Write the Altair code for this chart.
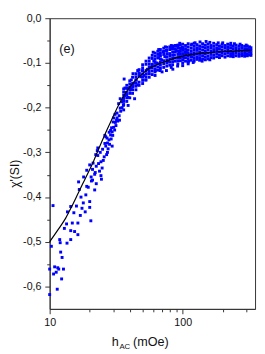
import altair as alt
import pandas as pd

FONT = "Liberation Sans"

# fitted curve (black line)
fit_h = [10, 11.5, 13.2, 14.6, 16.1, 17.6, 19.3, 21.5, 24, 27.2, 30, 32.5, 35, 38, 42,
         46, 50, 57, 65, 74, 84, 96, 110, 130, 155, 185, 220, 260, 300, 325]
fit_chi = [-0.500, -0.474, -0.447, -0.422, -0.396, -0.372, -0.348, -0.318, -0.284, -0.247,
           -0.220, -0.198, -0.180, -0.163, -0.146, -0.134, -0.124, -0.111, -0.103, -0.097,
           -0.091, -0.086, -0.082, -0.079, -0.077, -0.075, -0.074, -0.073, -0.072, -0.072]

# sparse low-field points
low_h = [16.5, 19.0, 20.6, 21.0, 22.4, 19.5, 16.7, 21.8, 18.7, 17.2, 10.6, 20.0, 17.9, 15.9,
         14.4, 20.0, 17.5, 13.6, 15.2, 18.5, 17.0, 13.4, 14.8, 16.3, 20.4, 12.9, 14.4, 15.4,
         16.3, 14.4, 11.9, 12.0, 13.5, 10.3, 12.1, 12.4, 10.0, 10.9, 11.5, 11.7, 12.7, 10.7,
         11.2, 12.3, 11.4, 10.0]
low_chi = [-0.366, -0.376, -0.364, -0.362, -0.370, -0.378, -0.383, -0.384, -0.395, -0.400,
           -0.419, -0.410, -0.413, -0.420, -0.421, -0.423, -0.425, -0.433, -0.435, -0.433,
           -0.441, -0.460, -0.458, -0.458, -0.453, -0.470, -0.475, -0.477, -0.484, -0.495,
           -0.495, -0.502, -0.503, -0.510, -0.523, -0.535, -0.561, -0.556, -0.558, -0.561,
           -0.561, -0.572, -0.568, -0.583, -0.606, -0.618]

# points along the steep part
mid_h = [20.0, 21.2, 23.0, 22.4, 24.3, 23.7, 25.7, 25.0, 26.4, 27.2, 27.9, 26.4, 28.7, 29.5,
         30.3, 28.7, 31.2, 30.3, 32.1, 32.1, 33.9, 33.0, 34.8, 35.8, 33.9, 27.2, 29.5, 21.8,
         24.3, 19.0, 18.0, 22.8, 26.0, 31.0, 22.0, 23.3, 24.8, 25.3, 26.8, 27.5, 28.2, 29.0,
         29.8, 30.8, 31.5, 32.5, 33.3, 34.2, 35.0, 36.0, 26.0, 27.0, 28.0, 29.2, 30.0, 31.8,
         33.5, 24.0, 23.0, 22.2, 21.0, 20.5, 24.5, 36.3]
mid_chi = [-0.328, -0.324, -0.307, -0.331, -0.321, -0.342, -0.310, -0.293, -0.286, -0.279,
           -0.272, -0.265, -0.261, -0.254, -0.244, -0.251, -0.233, -0.223, -0.223, -0.212,
           -0.201, -0.191, -0.187, -0.195, -0.180, -0.300, -0.286, -0.349, -0.352, -0.340,
           -0.355, -0.296, -0.262, -0.215, -0.345, -0.325, -0.335, -0.318, -0.305, -0.292,
           -0.282, -0.270, -0.262, -0.250, -0.240, -0.230, -0.218, -0.208, -0.200, -0.205,
           -0.280, -0.268, -0.255, -0.245, -0.232, -0.228, -0.228, -0.300, -0.290, -0.305,
           -0.338, -0.355, -0.360, -0.136]

# scattered points around the knee
knee_h = [35.8, 36.8, 37.8, 38.9, 41.1, 42.3, 43.5, 40.0, 44.7, 45.9, 48.5, 47.2, 49.9, 51.2,
          54.2, 55.7, 57.3, 52.7, 58.9, 60.6, 62.3, 64.0, 65.8, 67.6, 69.5, 71.5, 73.4, 75.5,
          77.6, 79.8, 82.0, 84.3, 86.7, 89.1, 91.6, 94.2, 96.8, 99.5, 102, 105, 108, 111, 114,
          117, 42.3, 45.9, 41.1, 36.8, 38.9, 43.5, 91.6, 82.0, 75.5, 67.6, 84.3]
knee_chi = [-0.184, -0.173, -0.166, -0.177, -0.159, -0.152, -0.145, -0.156, -0.138, -0.149,
            -0.131, -0.124, -0.117, -0.128, -0.114, -0.124, -0.110, -0.138, -0.103, -0.096,
            -0.117, -0.100, -0.089, -0.082, -0.093, -0.075, -0.086, -0.072, -0.096, -0.079,
            -0.068, -0.065, -0.082, -0.072, -0.061, -0.075, -0.068, -0.065, -0.089, -0.075,
            -0.072, -0.096, -0.082, -0.086, -0.124, -0.117, -0.138, -0.156, -0.195, -0.180,
            -0.107, -0.110, -0.117, -0.117, -0.114]

# ragged edges of the saturated band
edge_h = [82, 89, 117, 124, 135, 160, 200, 245, 270, 300, 74, 66, 60, 95, 150, 185, 230,
          100, 110, 120, 140, 160, 62, 70]
edge_chi = [-0.061, -0.061, -0.058, -0.055, -0.053, -0.054, -0.055, -0.057, -0.058, -0.060,
            -0.064, -0.070, -0.076, -0.056, -0.052, -0.055, -0.056, -0.106, -0.102, -0.099,
            -0.096, -0.093, -0.128, -0.120]

# dense columns of measurements (field value -> chi' readings)
dense_cols = {
    36: [-0.158, -0.165, -0.172, -0.179, -0.186, -0.193],
    38: [-0.150, -0.157, -0.171, -0.178, -0.186],
    40: [-0.140, -0.147, -0.154, -0.161, -0.168, -0.178],
    42: [-0.132, -0.146, -0.153, -0.160, -0.168],
    44.5: [-0.124, -0.131, -0.138, -0.145, -0.152, -0.160],
    47: [-0.115, -0.122, -0.129, -0.143, -0.150],
    50: [-0.104, -0.111, -0.118, -0.125, -0.132, -0.139, -0.146],
    53: [-0.096, -0.103, -0.117, -0.124, -0.131, -0.138],
    56: [-0.089, -0.096, -0.103, -0.110, -0.117, -0.124, -0.132],
    59: [-0.083, -0.090, -0.104, -0.111, -0.118, -0.126],
    62: [-0.078, -0.085, -0.092, -0.099, -0.106, -0.113, -0.120],
    65: [-0.074, -0.081, -0.088, -0.102, -0.109, -0.116],
    68: [-0.070, -0.077, -0.084, -0.091, -0.098, -0.105, -0.112],
    72: [-0.067, -0.074, -0.081, -0.095, -0.102, -0.110],
    76: [-0.065, -0.072, -0.079, -0.086, -0.093, -0.100, -0.107],
    80: [-0.064, -0.070, -0.084, -0.091, -0.098, -0.105],
    84: [-0.062, -0.069, -0.076, -0.083, -0.090, -0.097, -0.104],
    88: [-0.061, -0.068, -0.075, -0.089, -0.096],
    92: [-0.060, -0.067, -0.074, -0.081, -0.088, -0.095, -0.102],
    96: [-0.060, -0.067, -0.074, -0.081, -0.088, -0.095],
    100: [-0.058, -0.066, -0.072, -0.079, -0.086, -0.093, -0.100],
    105: [-0.061, -0.068, -0.075, -0.081, -0.088, -0.096],
    110: [-0.057, -0.064, -0.071, -0.078, -0.085, -0.091, -0.098],
    116: [-0.060, -0.067, -0.074, -0.080, -0.087, -0.094],
    122: [-0.056, -0.063, -0.070, -0.077, -0.083, -0.090, -0.096],
    128: [-0.059, -0.066, -0.072, -0.079, -0.086, -0.092],
    134: [-0.062, -0.068, -0.075, -0.081, -0.088, -0.094],
    141: [-0.057, -0.064, -0.071, -0.078, -0.084, -0.091],
    148: [-0.060, -0.066, -0.073, -0.080, -0.087, -0.093],
    155: [-0.058, -0.065, -0.071, -0.078, -0.085, -0.091],
    163: [-0.061, -0.067, -0.074, -0.081, -0.088],
    171: [-0.056, -0.063, -0.070, -0.076, -0.083, -0.089],
    180: [-0.059, -0.066, -0.072, -0.079, -0.086],
    189: [-0.062, -0.068, -0.075, -0.082, -0.088],
    198: [-0.058, -0.064, -0.071, -0.078, -0.084],
    208: [-0.061, -0.067, -0.074, -0.080, -0.087],
    218: [-0.058, -0.064, -0.070, -0.077, -0.084],
    229: [-0.060, -0.066, -0.073, -0.079, -0.085],
    240: [-0.062, -0.068, -0.075, -0.081, -0.086],
    252: [-0.060, -0.066, -0.072, -0.078, -0.084],
    265: [-0.062, -0.068, -0.074, -0.080, -0.085],
    278: [-0.061, -0.067, -0.073, -0.079, -0.084],
    292: [-0.063, -0.069, -0.075, -0.081, -0.085],
    306: [-0.062, -0.068, -0.074, -0.080, -0.084],
    318: [-0.064, -0.070, -0.076, -0.082],
    326: [-0.066, -0.072, -0.078, -0.083],
}

y_major = [-0.6, -0.5, -0.4, -0.3, -0.2, -0.1, 0.0]
y_minor = [-0.55, -0.45, -0.35, -0.25, -0.15, -0.05]
x_major = [10, 100]
x_minor = [20, 30, 40, 50, 60, 70, 80, 90, 200, 300]

# ---- build tables ----
hs, cs = [], []
for a, b in [(low_h, low_chi), (mid_h, mid_chi), (knee_h, knee_chi), (edge_h, edge_chi)]:
    hs += a
    cs += b
for h, vals in dense_cols.items():
    hs += [h] * len(vals)
    cs += vals
pts = pd.DataFrame({"h": hs, "chi": cs})
fit = pd.DataFrame({"h": fit_h, "chi": fit_chi})

xscale = alt.Scale(type="log", domain=[10, 350], nice=False)
yscale = alt.Scale(domain=[-0.65, 0.0], nice=False, zero=False)

label_expr = "replace(replace(format(datum.value, '.1f'), '.', ','), '\u2212', '-')"

points = alt.Chart(pts).mark_square(size=9, color="#0000ff", opacity=1, filled=True).encode(
    x=alt.X("h:Q", scale=xscale,
            axis=alt.Axis(values=x_major, format="d", title=None, orient="bottom",
                          tickSize=5, labelPadding=3, labelFont=FONT, labelFontSize=11,
                          labelColor="#111", domainColor="#333", tickColor="#333",
                          grid=False, labelFlush=False)),
    y=alt.Y("chi:Q", scale=yscale,
            axis=alt.Axis(values=y_major, labelExpr=label_expr, title="χ'(SI)", orient="left",
                          tickSize=5, labelPadding=4, labelFont=FONT, labelFontSize=11,
                          labelColor="#111", domainColor="#333", tickColor="#333",
                          grid=False, titleFont=FONT, titleFontSize=12.5,
                          titleFontWeight="normal", titleColor="#111", titleY=160,
                          titleX=-29, titleBaseline="bottom", titleAngle=270,
                          labelFlush=False)),
)

line = alt.Chart(fit).mark_line(color="black", strokeWidth=1.2, interpolate="monotone").encode(
    x=alt.X("h:Q", scale=xscale,
            axis=alt.Axis(values=x_minor, labels=False, title=None, orient="bottom",
                          tickSize=3, domain=False, grid=False, tickColor="#333")),
    y=alt.Y("chi:Q", scale=yscale,
            axis=alt.Axis(values=y_minor, labels=False, title=None, orient="left",
                          tickSize=3, domain=False, grid=False, tickColor="#333")),
)

panel = alt.Chart(pd.DataFrame({"t": ["(e)"]})).mark_text(
    font=FONT, fontSize=13, align="left", baseline="alphabetic", color="#111"
).encode(text="t:N", x=alt.value(10), y=alt.value(36))

xt_main = alt.Chart(pd.DataFrame({"t": ["h"]})).mark_text(
    font=FONT, fontSize=13, align="left", baseline="alphabetic", color="#111"
).encode(text="t:N", x=alt.value(64), y=alt.value(338))
xt_sub = alt.Chart(pd.DataFrame({"t": ["AC"]})).mark_text(
    font=FONT, fontSize=8, align="left", baseline="alphabetic", color="#111"
).encode(text="t:N", x=alt.value(72), y=alt.value(341))
xt_unit = alt.Chart(pd.DataFrame({"t": ["(mOe)"]})).mark_text(
    font=FONT, fontSize=13, align="left", baseline="alphabetic", color="#111"
).encode(text="t:N", x=alt.value(86), y=alt.value(338))

chart = alt.layer(points, line, panel, xt_main, xt_sub, xt_unit).resolve_axis(
    x="independent", y="independent"
).properties(
    width=212, height=300,
    autosize=alt.AutoSizeParams(type="none"),
    padding={"left": 43, "top": 5, "right": 2, "bottom": 41},
).configure_view(stroke="#333", strokeWidth=1)

chart.save("out.html", embed_options={"renderer": "svg", "actions": False})
